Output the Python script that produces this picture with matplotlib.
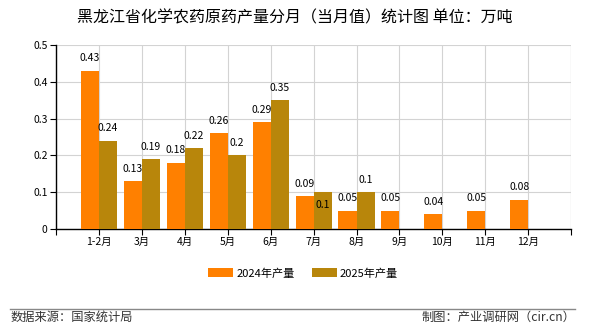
import matplotlib.pyplot as plt
import numpy as np

plt.rcParams['font.family'] = ['Noto Sans CJK SC', 'DejaVu Sans']

months = ['1-2月', '3月', '4月', '5月', '6月', '7月', '8月', '9月', '10月', '11月', '12月']
prod_2024 = [0.43, 0.13, 0.18, 0.26, 0.29, 0.09, 0.05, 0.05, 0.04, 0.05, 0.08]
prod_2025 = [0.24, 0.19, 0.22, 0.2, 0.35, 0.1, 0.1]

c24 = '#FF8000'
c25 = '#B8860B'

fig = plt.figure(figsize=(5.9, 3.3), dpi=100)
ax = fig.add_axes([0.095, 0.306, 0.873, 0.558])

x = np.arange(len(months))
w = 0.42
ax.bar(x - w / 2, prod_2024, width=w, color=c24, label='2024年产量', zorder=3)
x25 = np.arange(len(prod_2025))
ax.bar(x25 + w / 2, prod_2025, width=w, color=c25, label='2025年产量', zorder=3)

# value labels
for xi, v in zip(x, prod_2024):
    ax.text(xi - w / 2, v + 0.02, f'{v:g}', ha='center', va='bottom', fontsize=7.5, zorder=4)
for xi, v in zip(x25, prod_2025):
    dy = 0.02
    if months[xi] == '7月':
        dy = -0.048  # label pushed below top to avoid overlap
    ax.text(xi + w / 2, v + dy, f'{v:g}', ha='center', va='bottom', fontsize=7.5, zorder=4)

ax.set_xlim(-1, len(months))
ax.set_ylim(0, 0.5)
ax.set_yticks(np.arange(0, 0.51, 0.1))
ax.set_yticklabels(['0', '0.1', '0.2', '0.3', '0.4', '0.5'])
ax.set_xticks(np.arange(-1, len(months) + 1))
ax.set_xticklabels([''] + months + [''])
ax.tick_params(axis='both', labelsize=7.5, length=4, width=0.8, color='black', pad=2)
ax.grid(True, color='#D3D3D3', linewidth=0.8, zorder=0)

for s in ['top', 'right']:
    ax.spines[s].set_visible(False)
ax.spines['left'].set_linewidth(1)
ax.spines['bottom'].set_linewidth(1)
ax.axvline(len(months), color='#D3D3D3', linewidth=0.8, zorder=0)

fig.text(0.5, 0.945, '黑龙江省化学农药原药产量分月（当月值）统计图 单位：万吨',
         ha='center', va='center', fontsize=11.5)

ax.legend(loc='center', bbox_to_anchor=(0.5 - 0.02, -0.24), ncol=2, frameon=False,
          fontsize=8, handlelength=2.2, handleheight=0.8, columnspacing=1.6,
          handletextpad=0.3)

fig.add_artist(plt.Line2D([0.017, 0.975], [0.064, 0.064], transform=fig.transFigure,
                          color='#888888', linewidth=1))
fig.text(0.017, 0.037, '数据来源：国家统计局', ha='left', va='center', fontsize=8.8, color='#333333')
fig.text(0.975, 0.037, '制图：产业调研网（cir.cn）', ha='right', va='center', fontsize=8.8, color='#333333')

plt.savefig('out.png', dpi=100)
